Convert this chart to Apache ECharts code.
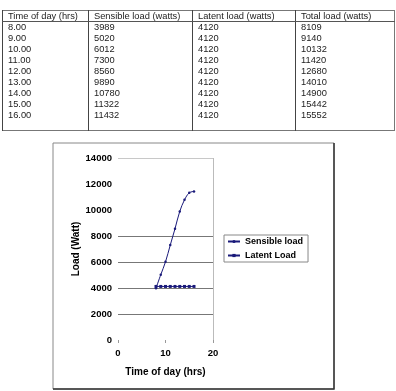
<!DOCTYPE html>
<html>
<head>
<meta charset="utf-8">
<script src="https://cdn.jsdelivr.net/npm/echarts@6/dist/echarts.min.js"></script>
<style>
  html, body { margin: 0; padding: 0; background: #fff; }
  #chart { position: absolute; left: 0; top: 0; width: 396px; height: 391px; }
  #tbl {
    position: absolute; left: 2px; top: 10px; width: 393px;
    border-collapse: collapse; table-layout: fixed;
    font-family: "Liberation Sans", Arial, sans-serif; font-size: 9.3px; color: #222;
    border: 1px solid #777;
  }
  #tbl td { padding: 0 0 0 5px; border-left: 1px solid #444; white-space: nowrap; overflow: hidden; }
  #tbl tr.head td { height: 10px; line-height: 10px; border-bottom: 1px solid #555; }
  #tbl tr.row td { height: 11px; line-height: 11px; }
  #tbl tr.pad td { height: 9px; }
</style>
</head>
<body>
<div id="chart"></div>
<table id="tbl"></table>
<script>
var headers = ["Time of day (hrs)", "Sensible load (watts)", "Latent load (watts)", "Total load (watts)"];
var hours = [8, 9, 10, 11, 12, 13, 14, 15, 16];
var sensible = [3989, 5020, 6012, 7300, 8560, 9890, 10780, 11322, 11432];
var latent = [4120, 4120, 4120, 4120, 4120, 4120, 4120, 4120, 4120];
var total = [8109, 9140, 10132, 11420, 12680, 14010, 14900, 15442, 15552];
var xTicks = [0, 10, 20];
var seriesNames = ["Sensible load", "Latent Load"];

// table on top
var colW = [86, 104, 103, 99];
var html = "<colgroup>";
colW.forEach(function (w) { html += '<col style="width:' + w + 'px">'; });
html += "</colgroup>";
html += '<tr class="head">' + headers.map(function (h) { return "<td>" + h + "</td>"; }).join("") + "</tr>";
for (var i = 0; i < hours.length; i++) {
  html += '<tr class="row"><td>' + hours[i].toFixed(2) + "</td><td>" + sensible[i] +
    "</td><td>" + latent[i] + "</td><td>" + total[i] + "</td></tr>";
}
html += '<tr class="pad"><td></td><td></td><td></td><td></td></tr>';
document.getElementById("tbl").innerHTML = html;

var font = "'Liberation Sans', Arial, sans-serif";
var navy = "#1a1a7a";
var chart = echarts.init(document.getElementById("chart"));

chart.setOption({
  backgroundColor: "#fff",
  animation: false,
  textStyle: { fontFamily: font },
  grid: { left: 118, right: 183, top: 158, bottom: 51 },
  graphic: [
    { type: "rect", shape: { x: 53, y: 143, width: 281, height: 246 },
      style: { fill: "none", stroke: "#888", lineWidth: 1 }, z: -1 },
    { type: "polyline", shape: { points: [[334, 143], [334, 389], [53, 389]] },
      style: { fill: "none", stroke: "#333", lineWidth: 1.5 }, z: -1 }
  ],
  legend: {
    orient: "vertical",
    left: 224, top: 235,
    padding: [2, 5, 2, 3],
    itemWidth: 12, itemHeight: 4, itemGap: 5,
    borderColor: "#888", borderWidth: 1,
    textStyle: { fontSize: 9, fontWeight: "bold", color: "#000", fontFamily: font },
    data: seriesNames
  },
  xAxis: {
    type: "value", min: 0, max: 20, interval: 10,
    name: "Time of day (hrs)", nameLocation: "middle", nameGap: 27,
    nameTextStyle: { fontSize: 10, fontWeight: "bold", color: "#000" },
    axisLine: { show: false },
    axisTick: { show: true, length: 3, lineStyle: { color: "#999" } },
    axisLabel: { fontSize: 9.5, fontWeight: "bold", color: "#000", margin: 8,
      customValues: xTicks },
    splitLine: { show: true, lineStyle: { color: ["rgba(0,0,0,0)", "rgba(0,0,0,0)", "#bbb"], width: 1 } }
  },
  yAxis: {
    type: "value", min: 0, max: 14000, interval: 2000,
    name: "Load (Watt)", nameLocation: "middle", nameGap: 36,
    nameTextStyle: { fontSize: 10, fontWeight: "bold", color: "#000" },
    axisLine: { show: false },
    axisTick: { show: false },
    axisLabel: { fontSize: 9.5, fontWeight: "bold", color: "#000", margin: 6,
      formatter: function (v) { return String(v); } },
    splitLine: {
      show: true,
      lineStyle: {
        color: ["rgba(0,0,0,0)", "#777", "#777", "#777", "#777", "rgba(0,0,0,0)", "rgba(0,0,0,0)", "#c8c8c8"],
        width: 1
      }
    }
  },
  series: [
    {
      name: seriesNames[0], type: "line", smooth: 0.35,
      data: hours.map(function (h, i) { return [h, sensible[i]]; }),
      symbol: "circle", symbolSize: 2.5,
      lineStyle: { color: navy, width: 1 },
      itemStyle: { color: navy }
    },
    {
      name: seriesNames[1], type: "line",
      data: hours.map(function (h, i) { return [h, latent[i]]; }),
      symbol: "rect", symbolSize: 3,
      lineStyle: { color: navy, width: 1 },
      itemStyle: { color: navy }
    }
  ]
});
</script>
</body>
</html>
